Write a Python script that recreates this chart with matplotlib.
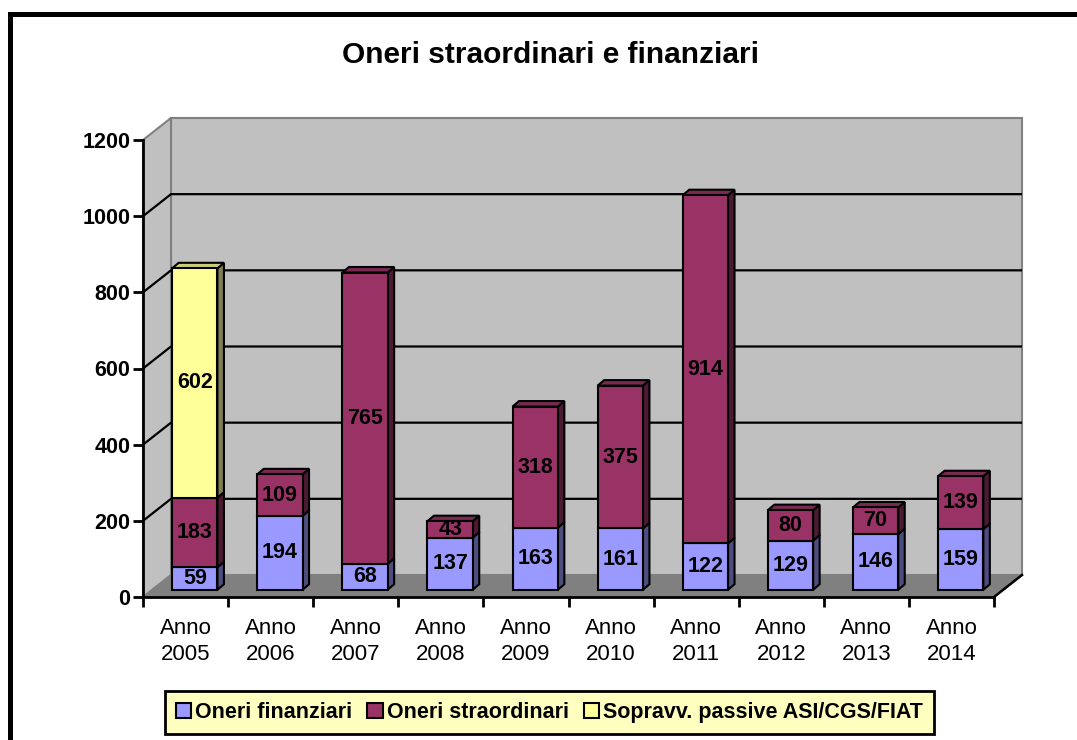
import matplotlib
matplotlib.use('Agg')
import matplotlib.pyplot as plt
import numpy as np
from matplotlib.patches import Polygon, Rectangle
from matplotlib.lines import Line2D

# ---------------- data ----------------
categories = ['Anno\n2005', 'Anno\n2006', 'Anno\n2007', 'Anno\n2008', 'Anno\n2009',
              'Anno\n2010', 'Anno\n2011', 'Anno\n2012', 'Anno\n2013', 'Anno\n2014']
oneri_finanziari = [59, 194, 68, 137, 163, 161, 122, 129, 146, 159]
oneri_straordinari = [183, 109, 765, 43, 318, 375, 914, 80, 70, 139]
sopravv_passive = [602, 0, 0, 0, 0, 0, 0, 0, 0, 0]
series_names = ['Oneri finanziari', 'Oneri straordinari', 'Sopravv. passive ASI/CGS/FIAT']
yticks = [0, 200, 400, 600, 800, 1000, 1200]
title = 'Oneri straordinari e finanziari'

# colours: front, side, top
front_cols = ['#9999FF', '#993366', '#FFFF99']
side_cols = ['#4D4D80', '#4D1A33', '#80804D']
top_cols = ['#7A7ACC', '#7A2952', '#CCCC7A']

plt.rcParams['font.family'] = ['Liberation Sans', 'DejaVu Sans']

W, H = 1077, 740
fig = plt.figure(figsize=(W / 100, H / 100), dpi=100)
fig.patch.set_facecolor('white')

# front plane of the chart (pixel geometry)
x0, x1, y0, y1 = 143, 994, 597, 140
ax = fig.add_axes([x0 / W, 1 - y0 / H, (x1 - x0) / W, (y0 - y1) / H])
n = len(categories)
ax.set_xlim(-0.5, n - 0.5)
ax.set_ylim(0, yticks[-1])
ax.set_facecolor('none')

px_x = (x1 - x0) / n
px_y = (y0 - y1) / yticks[-1]
DX = 28 / px_x          # depth offset (data units)
DY = 22 / px_y
f = 0.33                # depth position of bars' front face
bw = 45.3 / px_x        # bar width
bdx = 6.5 / px_x        # bar depth
bdy = 5.5 / px_y

xl, xr = -0.5, n - 0.5
top = yticks[-1]
wall_col = '#C0C0C0'
edge_gray = '#808080'

# back wall
ax.add_patch(Polygon([(xl + DX, DY), (xr + DX, DY), (xr + DX, top + DY), (xl + DX, top + DY)],
                     closed=True, fc=wall_col, ec=edge_gray, lw=1.5, zorder=0, clip_on=False))
# left wall
ax.add_patch(Polygon([(xl, 0), (xl, top), (xl + DX, top + DY), (xl + DX, DY)],
                     closed=True, fc=wall_col, ec=edge_gray, lw=1.5, zorder=0, clip_on=False))
# floor
ax.add_patch(Polygon([(xl, 0), (xr, 0), (xr + DX, DY), (xl + DX, DY)],
                     closed=True, fc='#808080', ec=edge_gray, lw=1.0, zorder=0.5, clip_on=False))
ax.plot([xr, xr + DX], [0, DY], color='black', lw=1.8, zorder=0.6, clip_on=False)

# gridlines
for v in yticks[1:-1]:
    ax.plot([xl, xl + DX, xr + DX], [v, v + DY, v + DY], color='black', lw=1.6,
            zorder=1, clip_on=False, solid_capstyle='butt')

# bars
xs = np.arange(n)
series = [oneri_finanziari, oneri_straordinari, sopravv_passive]
cum = np.zeros(n)
totals = np.sum(series, axis=0)
for si, vals in enumerate(series):
    vals = np.array(vals, dtype=float)
    mask = vals > 0
    bottoms = f * DY + cum
    ax.bar(xs[mask] + f * DX, vals[mask], width=bw, bottom=bottoms[mask],
           color=front_cols[si], edgecolor='black', lw=1.5, zorder=3, clip_on=False)
    for i in xs[mask]:
        cx = i + f * DX
        left_x = cx - bw / 2
        right_x = cx + bw / 2
        b = bottoms[i]
        t = b + vals[i]
        ax.add_patch(Polygon([(right_x, b), (right_x + bdx, b + bdy), (right_x + bdx, t + bdy), (right_x, t)],
                             closed=True, fc=side_cols[si], ec='black', lw=1.5, zorder=2.9,
                             clip_on=False, joinstyle='miter'))
        if np.isclose(cum[i] + vals[i], totals[i]):
            ax.add_patch(Polygon([(left_x, t), (right_x, t), (right_x + bdx, t + bdy), (left_x + bdx, t + bdy)],
                                 closed=True, fc=top_cols[si], ec='black', lw=1.5, zorder=2.9,
                                 clip_on=False, joinstyle='miter'))
        ax.text(cx, b + vals[i] / 2, f'{int(vals[i])}', ha='center', va='center',
                fontsize=15.5, fontweight='bold', color='black', zorder=5)
    cum = cum + vals

# axes / ticks
for s in ['top', 'right']:
    ax.spines[s].set_visible(False)
for s in ['left', 'bottom']:
    ax.spines[s].set_linewidth(2)
    ax.spines[s].set_color('black')
    ax.spines[s].set_zorder(2.5)

ax.set_yticks(yticks)
ax.set_yticklabels([str(v) for v in yticks], fontsize=15.5, fontweight='bold')
ax.tick_params(axis='y', length=7, width=2, pad=2, direction='out')

ax.set_xticks(np.arange(-0.5, n, 1.0))
ax.set_xticklabels([])
ax.tick_params(axis='x', which='major', length=7, width=2, direction='out')
ax.set_xticks(xs, minor=True)
ax.set_xticklabels(categories, minor=True, fontsize=16, linespacing=1.3)
ax.tick_params(axis='x', which='minor', length=0, pad=15)

# title
fig.text(551 / W, 1 - 55 / H, title, ha='center', va='center', fontsize=21.5, fontweight='bold')

# legend
handles = [Rectangle((0, 0), 1, 1, fc=c, ec='black', lw=1.5) for c in front_cols]
leg = fig.legend(handles, series_names, loc='center', bbox_to_anchor=(549.5 / W, 1 - 712.5 / H),
                 ncol=3, prop={'size': 15.5, 'weight': 'bold'}, frameon=True, fancybox=False,
                 facecolor='#FFFFC0', edgecolor='black', framealpha=1,
                 handlelength=0.7, handleheight=0.7, handletextpad=0.2, columnspacing=0.7,
                 borderpad=0.5, borderaxespad=0)
leg.get_frame().set_linewidth(2)

# outer chart frame (extends past right/bottom edges)
fig.add_artist(Line2D([10 / W, 10 / W], [1 - 14 / H, -0.05], color='black', lw=3.6,
                      transform=fig.transFigure, solid_capstyle='projecting'))
fig.add_artist(Line2D([10 / W, 1.05], [1 - 14 / H, 1 - 14 / H], color='black', lw=3.6,
                      transform=fig.transFigure, solid_capstyle='projecting'))

fig.savefig('out.png', dpi=100)
